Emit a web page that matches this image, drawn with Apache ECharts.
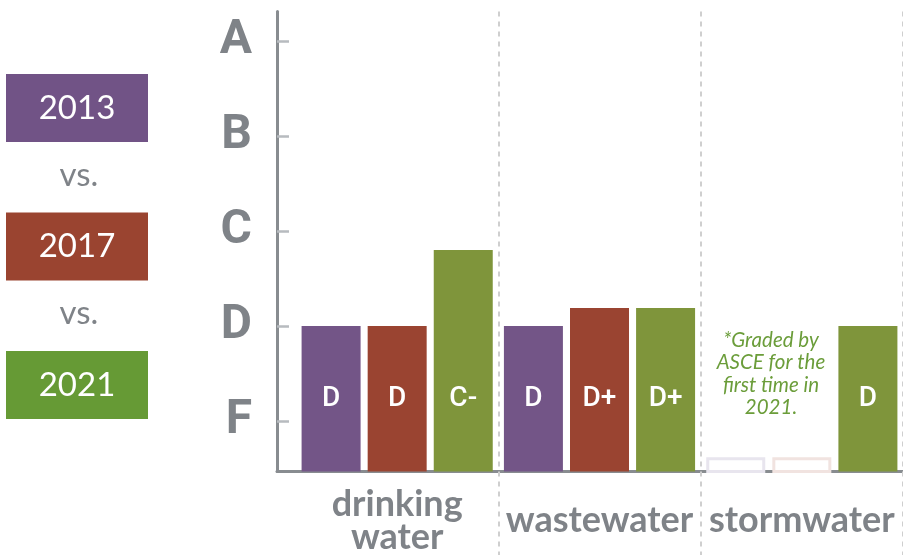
<!DOCTYPE html>
<html>
<head>
<meta charset="utf-8">
<script src="https://cdn.jsdelivr.net/npm/echarts@6/dist/echarts.min.js"></script>
<style>
html,body{margin:0;padding:0;background:#fff;}
#chart{width:903px;height:555px;}
</style>
</head>
<body>
<div id="chart"></div>
<script>
// ---- data ----
const categories = ['drinking\nwater', 'wastewater', 'stormwater'];
const years = ['2013', '2017', '2021'];
const gradeTicks = [1, 2, 3, 4, 5];
const gradeLabels = ['F', 'D', 'C', 'B', 'A'];
// numeric grade positions (F=1 ... A=5)
const values2013 = [2, 2, 0.62];
const values2017 = [2, 2.19, 0.62];
const values2021 = [2.8, 2.19, 2];
const grades2013 = ['D', 'D', ''];
const grades2017 = ['D', 'D+', ''];
const grades2021 = ['C-', 'D+', 'D'];
// stormwater was not graded before 2021
const notGraded2013 = [false, false, true];
const notGraded2017 = [false, false, true];
const noteText = '*Graded by\nASCE for the\nfirst time in\n2021.';

// ---- styles ----
const barColors = ['#735587', '#9a4431', '#7f953b'];
const legendColors = ['#715386', '#9a4430', '#669a35'];
const placeholderBorders = ['#e8e5ee', '#f1e3e0', '#e9eedd'];
const gray = '#7f8388';
const axisGray = '#888c90';
const dashColor = '#cfcfcf';
const yMin = 0.47, yMax = 5.31;

const seriesValues = [values2013, values2017, values2021];
const seriesGrades = [grades2013, grades2017, grades2021];
const seriesNotGraded = [notGraded2013, notGraded2017, [false, false, false]];

const chart = echarts.init(document.getElementById('chart'), null, {renderer: 'canvas'});

const series = years.map((y, si) => ({
  name: y,
  type: 'bar',
  xAxisIndex: 0,
  yAxisIndex: 0,
  barWidth: 59,
  barGap: '12%',
  data: seriesValues[si].map((v, i) => {
    if (seriesNotGraded[si][i]) {
      return {
        value: v,
        itemStyle: {color: '#ffffff', borderColor: placeholderBorders[si], borderWidth: 3},
        label: {show: false}
      };
    }
    return {value: v};
  }),
  itemStyle: {color: barColors[si]},
  label: {
    show: true,
    position: 'insideBottom',
    distance: 59,
    color: '#ffffff',
    fontFamily: 'Roboto',
    fontWeight: 500,
    fontSize: 28,
    formatter: p => seriesGrades[si][p.dataIndex]
  },
  emphasis: {disabled: true},
  animation: false
}));

// legend graphic (boxes + "vs.")
const boxTops = [74, 212.5, 351];
const graphics = [];
years.forEach((y, i) => {
  graphics.push({
    type: 'rect', left: 6, top: boxTops[i],
    shape: {width: 142, height: 68},
    style: {fill: legendColors[i]}
  });
  graphics.push({
    type: 'text', x: 77, y: boxTops[i] + 34,
    style: {text: y, fill: '#ffffff', font: '400 33px Lato', align: 'center', verticalAlign: 'middle'}
  });
  if (i < years.length - 1) {
    graphics.push({
      type: 'text', x: 79, y: (boxTops[i] + 68 + boxTops[i + 1]) / 2 - 2,
      style: {text: 'vs.', fill: gray, font: '400 33px Lato', align: 'center', verticalAlign: 'middle'}
    });
  }
});
graphics.push({
  type: 'text', x: 771, y: 374,
  style: {text: noteText, fill: '#6b9d3a', font: 'italic 400 20.5px Lato', lineHeight: 22.5,
          align: 'center', verticalAlign: 'middle'}
});

const dashed = {color: dashColor, width: 2, type: [5, 5]};

chart.setOption({
  animation: false,
  grid: [
    {left: 296, top: 11.5, width: 610, height: 460},
    {left: 277, top: 11.5, width: 640, height: 460}
  ],
  xAxis: [
    {
      type: 'category', gridIndex: 0, data: categories,
      axisLine: {show: false},
      axisTick: {show: true, length: 84, interval: (i) => i > 0, lineStyle: dashed},
      splitLine: {show: true, interval: (i) => i > 0, lineStyle: dashed},
      axisLabel: {
        color: gray, fontFamily: 'Lato', fontWeight: 'bold', fontSize: 36,
        lineHeight: 33, margin: 49, verticalAlign: 'middle', interval: 0
      }
    },
    {
      type: 'value', gridIndex: 1, min: 0, max: 1,
      axisLine: {show: true, onZero: false, lineStyle: {color: axisGray, width: 3}},
      axisTick: {show: false}, axisLabel: {show: false}, splitLine: {show: false}
    }
  ],
  yAxis: [
    {type: 'value', gridIndex: 0, min: yMin, max: yMax, show: false},
    {
      type: 'value', gridIndex: 1, min: yMin, max: yMax,
      axisLine: {show: true, onZero: false, lineStyle: {color: axisGray, width: 3}},
      axisTick: {show: true, inside: true, length: 12, customValues: gradeTicks,
                 lineStyle: {color: '#b7bbbf', width: 2.5}},
      axisLabel: {
        show: true, customValues: gradeTicks, margin: 25,
        formatter: v => gradeLabels[gradeTicks.indexOf(v)],
        color: gray, fontFamily: 'Roboto', fontWeight: 'bold', fontSize: 48
      },
      splitLine: {show: false}
    }
  ],
  series: series,
  graphic: graphics
});
</script>
</body>
</html>
